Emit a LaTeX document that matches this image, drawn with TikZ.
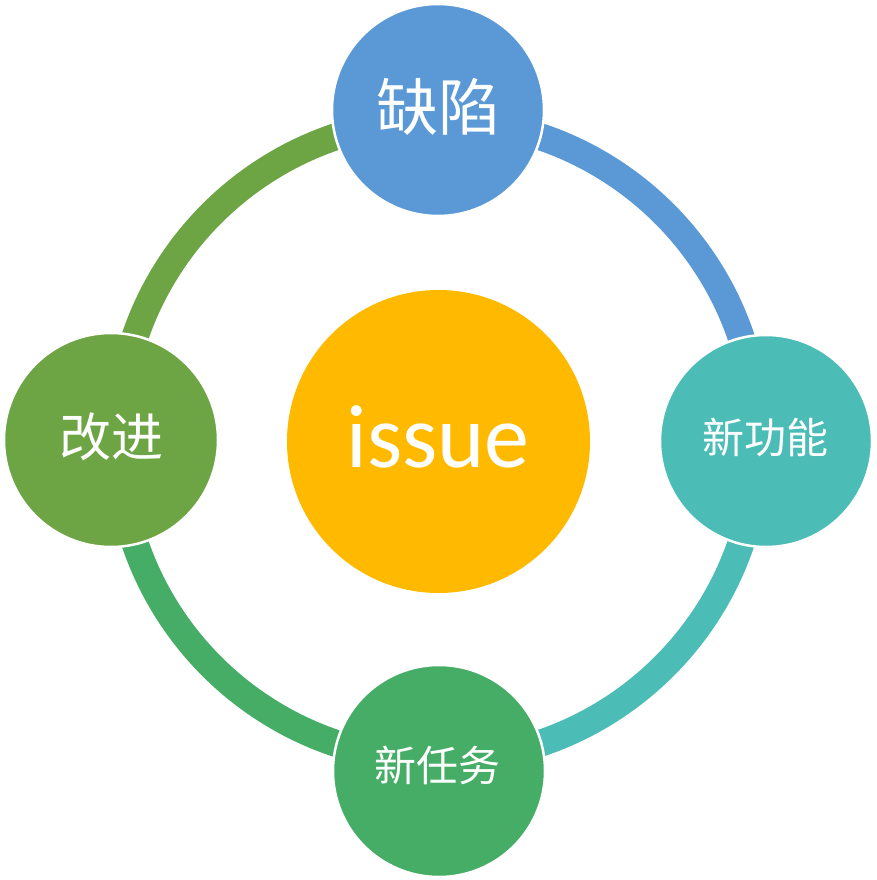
\documentclass[tikz,border=0pt]{standalone}
\usepackage{fontspec}
\setmainfont{Carlito}
\newfontfamily\cjk{Noto Sans CJK SC}
\definecolor{cblue}{HTML}{5A99D6}
\definecolor{cteal}{HTML}{4BBCB6}
\definecolor{cgreen}{HTML}{45AD66}
\definecolor{colive}{HTML}{6DA545}
\definecolor{cgold}{HTML}{FFBA00}
\tikzset{
  ring/.style={line width=27pt},
  bubble/.style={circle, draw=white, line width=2.5pt, inner sep=0pt, text=white, align=center},
}
\begin{document}
\begin{tikzpicture}[x=1pt,y=1pt]
\useasboundingbox (0,0) rectangle (876,-880);
\fill[white] (0,0) rectangle (876,-880);
\coordinate (O) at (438,-440);
% ring arcs
\draw[ring, cblue]  (O) ++(90:320) arc[start angle=90, end angle=0, radius=320];
\draw[ring, cteal]  (O) ++(0:320) arc[start angle=0, end angle=-90, radius=320];
\draw[ring, cgreen] (O) ++(-90:320) arc[start angle=-90, end angle=-180, radius=320];
\draw[ring, colive] (O) ++(180:320) arc[start angle=180, end angle=90, radius=320];
% circles
\node[bubble, fill=cgold, minimum size=303pt, draw=none] (issue) at (438.5,-441.5) {};
\node[bubble, fill=cblue, minimum size=212pt] (top) at (438,-110) {};
\node[bubble, fill=cteal, minimum size=212pt] (right) at (766,-441) {};
\node[bubble, fill=cgreen, minimum size=212pt] (bottom) at (439,-771) {};
\node[bubble, fill=colive, minimum size=214pt] (left) at (111,-440) {};
% labels
\node[text=white, inner sep=0pt] (tissue) at (438,-437) {\fontsize{90}{100}\selectfont issue};
\node[text=white, inner sep=0pt] (ttop) at (438,-107) {\cjk\fontsize{62}{70}\selectfont 缺陷};
\node[text=white, inner sep=0pt] (tleft) at (111,-437) {\cjk\fontsize{52}{60}\selectfont 改进};
\node[text=white, inner sep=0pt] (tright) at (765,-437) {\cjk\fontsize{42}{50}\selectfont 新功能};
\node[text=white, inner sep=0pt] (tbottom) at (437,-765) {\cjk\fontsize{42}{50}\selectfont 新任务};
\end{tikzpicture}
\end{document}
